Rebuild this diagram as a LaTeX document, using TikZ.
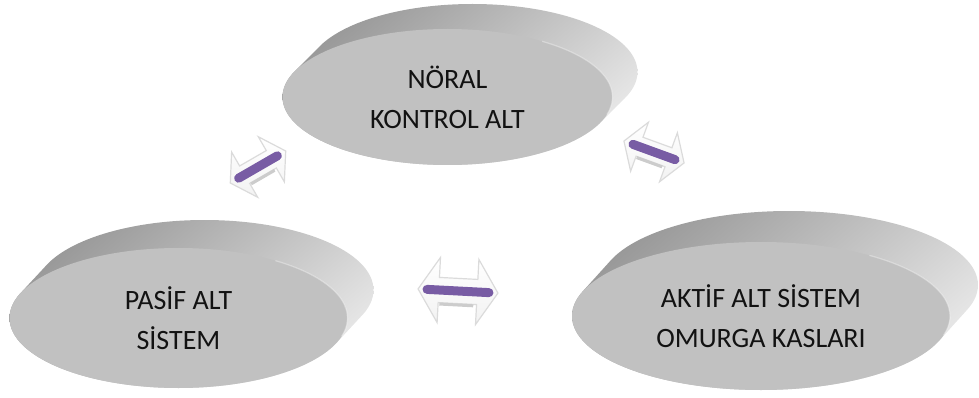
\documentclass[tikz,border=0pt]{standalone}
\usepackage{fontspec}
\setmainfont{Carlito}
\usetikzlibrary{shapes.geometric,shapes.arrows,calc}
\definecolor{facegray}{RGB}{193,193,193}
\definecolor{barpurple}{RGB}{120,92,164}
\definecolor{txt}{RGB}{18,18,18}
\definecolor{rimdark}{RGB}{152,152,152}
\definecolor{rimlight}{RGB}{232,232,232}
% extruded rim behind a face: cx, cy, a, b, dx, dy
\newcommand\discrimdraw[6]{%
  \begin{scope}
    \clip \foreach \k in {0,...,30}{ ({#1+\k/30*#5},{#2+\k/30*#6}) ellipse [x radius=#3, y radius=#4] };
    \path[top color=rimdark, bottom color=rimlight, shading angle=40]
      ({#1-#3},{#2-#4+#6}) rectangle ({#1+#3+#5},{#2+#4});
  \end{scope}%
}
\begin{document}
\begin{tikzpicture}[x=1pt,y=-1pt,
  face/.style={ellipse, fill=facegray, inner sep=0pt, align=center,
    font=\fontsize{28}{40}\selectfont, text=txt},
  hl/.style={draw=white, opacity=0.35, line width=1.2pt},
  dblarrow/.style={double arrow, double arrow tip angle=115,
    double arrow head extend=20pt, inner sep=12pt, minimum height=80pt,
    top color=white, bottom color=gray!10, draw=gray!28, line width=1.2pt},
  bar/.style={line width=9pt, line cap=round, draw=barpurple},
  barshadow/.style={line width=3pt, draw=gray!40}
]
\useasboundingbox (0,0) rectangle (979,398);

% top disc
\discrimdraw{447.5}{97}{165}{68}{25}{-25}
\node[face, minimum width=330pt, minimum height=136pt] (top) at (447.5,97) {NÖRAL\\KONTROL ALT};
\draw[hl] (top.center) ++(15:165 and 68) arc[start angle=15, end angle=-55, x radius=165, y radius=68];

% left disc
\discrimdraw{178.5}{318}{169}{70}{26}{-28}
\node[face, minimum width=338pt, minimum height=140pt] (left) at (178.5,318) {PASİF ALT\\SİSTEM};
\draw[hl] (left.center) ++(15:169 and 70) arc[start angle=15, end angle=-55, x radius=169, y radius=70];

% right disc
\discrimdraw{761}{316}{189}{74}{28}{-31}
\node[face, minimum width=378pt, minimum height=148pt] (right) at (761,316) {AKTİF ALT SİSTEM\\OMURGA KASLARI};
\draw[hl] (right.center) ++(15:189 and 74) arc[start angle=15, end angle=-55, x radius=189, y radius=74];

% bottom arrow
\begin{scope}[shift={(458,291)}, rotate=-3, transform shape]
  \node[dblarrow] (abottom) at (0,0) {};
  \draw[barshadow] (-18,14) -- (16,14);
  \draw[bar] (-31,0) -- (31,0);
\end{scope}

% left arrow
\begin{scope}[shift={(258,167)}, rotate=30, scale=0.8, transform shape]
  \node[dblarrow] (aleft) at (0,0) {};
  \draw[barshadow] (-18,14) -- (16,14);
  \draw[bar] (-28,0) -- (28,0);
\end{scope}

% right arrow
\begin{scope}[shift={(654,152)}, rotate=-20, scale=0.8, transform shape]
  \node[dblarrow] (aright) at (0,0) {};
  \draw[barshadow] (-18,14) -- (16,14);
  \draw[bar] (-28,0) -- (28,0);
\end{scope}
\end{tikzpicture}
\end{document}
